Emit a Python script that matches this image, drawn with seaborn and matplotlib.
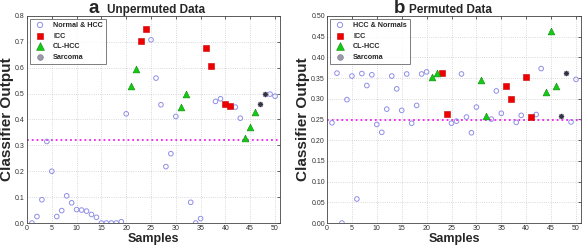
import numpy as np
import pandas as pd
import seaborn as sns
import matplotlib.pyplot as plt

# ---- panel a: unpermuted data ----
a_normal_x = [1, 2, 3, 4, 5, 6, 7, 8, 9, 10, 11, 12, 13, 14, 15, 16, 17, 18, 19, 20,
              25, 26, 27, 28, 29, 30, 33, 34, 35, 38, 39, 42, 43, 49, 50]
a_normal_y = [0.0, 0.025, 0.09, 0.315, 0.2, 0.025, 0.048, 0.105, 0.078, 0.052, 0.05,
              0.046, 0.033, 0.022, 0.0, 0.0, 0.0, 0.0, 0.005, 0.422,
              0.708, 0.56, 0.457, 0.218, 0.268, 0.412, 0.08, 0.0, 0.017, 0.47, 0.48,
              0.448, 0.405, 0.498, 0.49]
a_icc_x = [23, 24, 36, 37, 40, 41]
a_icc_y = [0.703, 0.748, 0.676, 0.607, 0.46, 0.452]
a_cl_x = [21, 22, 31, 32, 44, 45, 46]
a_cl_y = [0.53, 0.595, 0.45, 0.5, 0.33, 0.37, 0.43]
a_sar_x = [47, 48]
a_sar_y = [0.46, 0.498]
a_thresh = 0.32

# ---- panel b: permuted data ----
b_normal_x = [1, 2, 3, 4, 5, 6, 7, 8, 9, 10, 11, 12, 13, 14, 15, 16, 17, 18, 19, 20,
              25, 26, 27, 28, 29, 30, 33, 34, 35, 38, 39, 42, 43, 49, 50]
b_normal_y = [0.242, 0.362, 0.0, 0.298, 0.355, 0.058, 0.361, 0.332, 0.358, 0.238,
              0.219, 0.275, 0.355, 0.324, 0.272, 0.36, 0.241, 0.284, 0.36, 0.365,
              0.241, 0.246, 0.36, 0.256, 0.218, 0.28, 0.251, 0.319, 0.265, 0.243,
              0.26, 0.262, 0.373, 0.244, 0.347]
b_icc_x = [23, 24, 36, 37, 40, 41]
b_icc_y = [0.362, 0.263, 0.33, 0.30, 0.353, 0.256]
b_cl_x = [21, 22, 31, 32, 44, 45, 46]
b_cl_y = [0.352, 0.362, 0.345, 0.258, 0.316, 0.463, 0.33]
b_sar_x = [47, 48]
b_sar_y = [0.258, 0.362]
b_thresh = 0.248


def make_frame(normal_label, nx, ny, ix, iy, cx, cy, sx, sy):
    parts = [
        pd.DataFrame({'sample': nx, 'output': ny, 'group': normal_label}),
        pd.DataFrame({'sample': ix, 'output': iy, 'group': 'ICC'}),
        pd.DataFrame({'sample': cx, 'output': cy, 'group': 'CL-HCC'}),
        pd.DataFrame({'sample': sx, 'output': sy, 'group': 'Sarcoma'}),
    ]
    return pd.concat(parts, ignore_index=True)


def draw_panel(ax, df, normal_label, thresh, ymax, ystep, letter, title,
               letter_x, title_x):
    sub = df[df.group == normal_label]
    sns.scatterplot(data=sub, x='sample', y='output', ax=ax, marker='o', s=11,
                    facecolors='none', edgecolor='#8f8fe8', linewidth=0.7,
                    label=normal_label, zorder=3)
    sub = df[df.group == 'ICC']
    sns.scatterplot(data=sub, x='sample', y='output', ax=ax, marker='s', s=13,
                    color='#ee0000', edgecolor='#cc0000', linewidth=0.4,
                    label='ICC', zorder=3)
    sub = df[df.group == 'CL-HCC']
    sns.scatterplot(data=sub, x='sample', y='output', ax=ax, marker='^', s=24,
                    color='#11cc11', edgecolor='#118811', linewidth=0.4,
                    label='CL-HCC', zorder=3)
    sub = df[df.group == 'Sarcoma']
    sns.scatterplot(data=sub, x='sample', y='output', ax=ax, marker='o', s=13,
                    color='#9a9aa8', edgecolor='#777788', linewidth=0.4,
                    label='Sarcoma', zorder=3)
    ax.scatter(sub['sample'], sub['output'], marker=(8, 2, 0), s=10,
               color='#333344', linewidth=0.5, zorder=4)

    ax.axhline(thresh, color='#ee22ee', linestyle=':', linewidth=1.3, zorder=2)

    ax.set_xlim(0, 51)
    ax.set_ylim(0, ymax)
    ax.set_xticks(np.arange(0, 51, 5))
    ax.set_yticks(np.round(np.arange(0, ymax + 1e-9, ystep), 2))
    ax.tick_params(labelsize=5, length=2, width=0.5, direction='in', pad=1.5,
                   labelcolor='#333333', top=True, right=True)
    ax.grid(True, linestyle=':', color='#cccccc', linewidth=0.6)
    ax.set_axisbelow(True)
    for sp in ax.spines.values():
        sp.set_linewidth(0.6)
        sp.set_color('#444444')

    ax.set_xlabel('Samples', fontsize=9, fontweight='bold', labelpad=0.5)
    ax.set_ylabel('Classifier Output', fontsize=11, fontweight='bold', labelpad=1)

    leg = ax.legend(loc='upper left', frameon=True, fancybox=False,
                    borderpad=0.4, labelspacing=0.5, handletextpad=0.8,
                    borderaxespad=0.4, markerscale=1.15,
                    prop={'weight': 'bold', 'size': 5.2})
    leg.get_frame().set_edgecolor('#444444')
    leg.get_frame().set_linewidth(0.6)

    ax.set_title('')
    ax.text(letter_x, 1.014, letter, transform=ax.transAxes, fontsize=13.5,
            fontweight='bold', ha='left', va='baseline')
    ax.text(title_x, 1.014, title, transform=ax.transAxes, fontsize=8.5,
            fontweight='bold', ha='left', va='baseline')


sns.set_style('white')
plt.rcParams['font.family'] = ['Liberation Sans', 'DejaVu Sans']

fig = plt.figure(figsize=(5.84, 2.47), dpi=100)
ax_a = fig.add_axes([27 / 584, 24 / 247, 253 / 584, 207 / 247])
ax_b = fig.add_axes([327 / 584, 24 / 247, 254 / 584, 207 / 247])

df_a = make_frame('Normal & HCC', a_normal_x, a_normal_y, a_icc_x, a_icc_y,
                  a_cl_x, a_cl_y, a_sar_x, a_sar_y)
df_b = make_frame('HCC & Normals', b_normal_x, b_normal_y, b_icc_x, b_icc_y,
                  b_cl_x, b_cl_y, b_sar_x, b_sar_y)

draw_panel(ax_a, df_a, 'Normal & HCC', a_thresh, 0.8, 0.1, 'a', 'Unpermuted Data',
           0.245, 0.316)
draw_panel(ax_b, df_b, 'HCC & Normals', b_thresh, 0.5, 0.05, 'b', 'Permuted Data',
           0.262, 0.323)

fig.savefig('out.png', dpi=100)
